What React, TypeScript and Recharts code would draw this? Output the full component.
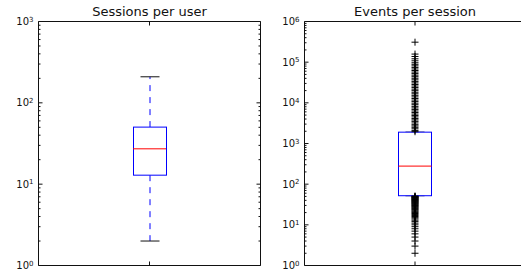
import React from 'react';
import { ComposedChart, Bar, Scatter, XAxis, YAxis } from 'recharts';

const titles = ['Sessions per user', 'Events per session'];
const categories = ['1'];
const whiskerLow = [2, 52];
const quartile1 = [12.9, 52];
const medians = [27.2, 278];
const quartile3 = [50.3, 1900];
const whiskerHigh = [209, 1900];
const topDecade = [3, 6];
const minorSteps = [1, 2, 3, 4, 5, 6, 7, 8, 9];

const sessionFliers: number[] = [];
const eventFliers = [
  2, 3, 4, 5, 6, 7, 8, 9, 10, 11, 12, 13, 14, 15, 16, 17, 18, 19, 20, 21, 22, 23, 24, 25, 26,
  27, 28, 29, 30, 31, 32, 33, 34, 35, 36, 37, 38, 39, 40, 41, 42, 43, 44, 45, 46, 47, 48, 49, 50, 51,
  1950, 2100, 2300, 2500, 2700, 2900, 3200, 3500, 3800, 4100, 4500, 4900, 5300, 5800, 6300, 6900,
  7500, 8200, 9000, 9800, 10700, 11700, 12800, 14000, 15300, 16700, 18200, 19900, 21700, 23700,
  25900, 28300, 30900, 33700, 36800, 40200, 43900, 47900, 52300, 57100, 62300, 68000, 74300, 81100,
  88600, 96700, 108000, 121000, 138000, 158000, 310000,
];
const fliers = [sessionFliers, eventFliers];

const ink = '#111';
const font = 'DejaVu Sans';

// plot frames: left 38.5..260.5, right 304.5..525.5, both 21.5..265.5
const panels = [
  { left: 0, width: 262, axisWidth: 38.5, right: 0.5 },
  { left: 262, width: 265, axisWidth: 42.5, right: 0.5 },
];

const logTicks = (top: number) => {
  const out: number[] = [];
  for (let e = 0; e < top; e++) minorSteps.forEach((m) => out.push(m * 10 ** e));
  out.push(10 ** top);
  return out;
};

const YTick = (props: any) => {
  const x = Number(props.x);
  const y = Number(props.y);
  const v = Number(props.payload.value);
  const exp = Math.round(Math.log10(v));
  const major = Math.abs(v - 10 ** exp) < 1e-6 * v;
  const dir = props.side === 'left' ? 1 : -1;
  return (
    <g>
      <path d={`M${x},${y}h${dir * (major ? 4 : 2)}`} stroke={ink} strokeWidth={1} fill="none" />
      {props.side === 'left' && major && (
        <text x={x - 5} y={y + 3.6} textAnchor="end" fontSize={10} fontFamily={font} fill={ink}>
          <tspan>10</tspan>
          <tspan dy={-3.5} fontSize={7}>{exp}</tspan>
        </text>
      )}
    </g>
  );
};

const XTick = (props: any) => {
  const x = Number(props.x);
  const y = Number(props.y);
  return <path d={`M${x},${y}v${props.side === 'bottom' ? -4 : 4}`} stroke={ink} strokeWidth={1} fill="none" />;
};

const BoxShape = (p: any) => (
  <rect x={p.x} y={p.y} width={p.width} height={p.height} fill="#fff" stroke="#0000ff" />
);

const LowWhisker = (p: any) => {
  const cx = p.x + p.width / 2;
  const bottom = p.y + p.height;
  return (
    <g>
      <line x1={cx} x2={cx} y1={p.y} y2={bottom} stroke="#0000ff" strokeDasharray="6 6" />
      <line x1={cx - 9.5} x2={cx + 9.5} y1={bottom} y2={bottom} stroke={ink} />
    </g>
  );
};

const HighWhisker = (p: any) => {
  const cx = p.x + p.width / 2;
  const bottom = p.y + p.height;
  return (
    <g>
      <line x1={cx} x2={cx} y1={bottom} y2={p.y} stroke="#0000ff" strokeDasharray="6 6" />
      <line x1={cx - 9.5} x2={cx + 9.5} y1={p.y} y2={p.y} stroke={ink} />
    </g>
  );
};

const MedianShape = (p: any) => (
  <line x1={p.cx - 16.5} x2={p.cx + 16.5} y1={p.cy} y2={p.cy} stroke="#ff0000" />
);

const Cross = (p: any) => (
  <path d={`M${p.cx - 3.5},${p.cy}h7M${p.cx},${p.cy - 3.5}v7`} stroke="#000" fill="none" />
);

const Panel = ({ i }: { i: number }) => {
  const g = panels[i];
  const rows = categories.map((name) => ({
    name,
    lo: [whiskerLow[i], quartile1[i]],
    box: [quartile1[i], quartile3[i]],
    hi: [quartile3[i], whiskerHigh[i]],
    med: medians[i],
  }));
  const flierRows = fliers[i].map((v) => ({ name: categories[0], v }));
  const ticks = logTicks(topDecade[i]);
  const domain = [1, 10 ** topDecade[i]];
  const plotW = g.width - g.axisWidth - g.right - 1;

  return (
    <div style={{ position: 'absolute', left: g.left, top: 0 }}>
      <div
        style={{
          position: 'absolute', left: g.axisWidth, top: 4, width: plotW, textAlign: 'center',
          fontFamily: font, fontSize: 13, lineHeight: '15px', color: ink, whiteSpace: 'nowrap',
        }}
      >
        {titles[i]}
      </div>
      <ComposedChart
        width={g.width}
        height={273}
        data={rows}
        margin={{ top: 20.5, right: g.right, bottom: 6.5, left: 0 }}
      >
        <XAxis xAxisId="box" dataKey="name" type="category" height={1} tickSize={0} tickMargin={0}
          tickLine={false} stroke={ink} interval={0}
          tick={(p: any) => <XTick {...p} side="bottom" />} />
        <XAxis xAxisId="hi" dataKey="name" type="category" orientation="top" height={1} tickSize={0}
          tickMargin={0} tickLine={false} stroke={ink} interval={0}
          tick={(p: any) => <XTick {...p} side="top" />} />
        <XAxis xAxisId="lo" dataKey="name" type="category" hide />
        <XAxis xAxisId="pts" dataKey="name" type="category" hide allowDuplicatedCategory={false} />
        <YAxis scale="log" type="number" domain={domain} allowDataOverflow ticks={ticks} interval={0}
          width={g.axisWidth} tickSize={0} tickMargin={0} tickLine={false} stroke={ink}
          tick={(p: any) => <YTick {...p} side="left" />} />
        <YAxis yAxisId="right" orientation="right" scale="log" type="number" domain={domain}
          allowDataOverflow ticks={ticks} interval={0} width={1} tickSize={0} tickMargin={0}
          tickLine={false} stroke={ink}
          tick={(p: any) => <YTick {...p} side="right" />} />
        <Bar xAxisId="lo" dataKey="lo" barSize={33} shape={LowWhisker} isAnimationActive={false} />
        <Bar xAxisId="hi" dataKey="hi" barSize={33} shape={HighWhisker} isAnimationActive={false} />
        <Bar xAxisId="box" dataKey="box" barSize={33} shape={BoxShape} isAnimationActive={false} />
        <Scatter xAxisId="pts" yAxisId="right" dataKey="med" shape={MedianShape} isAnimationActive={false} />
        <Scatter xAxisId="pts" data={flierRows} dataKey="v" shape={Cross} isAnimationActive={false} />
      </ComposedChart>
    </div>
  );
};

export default function App() {
  return (
    <div
      style={{
        position: 'absolute', left: 0, top: 0, width: 521, height: 273,
        overflow: 'hidden', background: '#fff',
      }}
    >
      <Panel i={0} />
      <Panel i={1} />
    </div>
  );
}
